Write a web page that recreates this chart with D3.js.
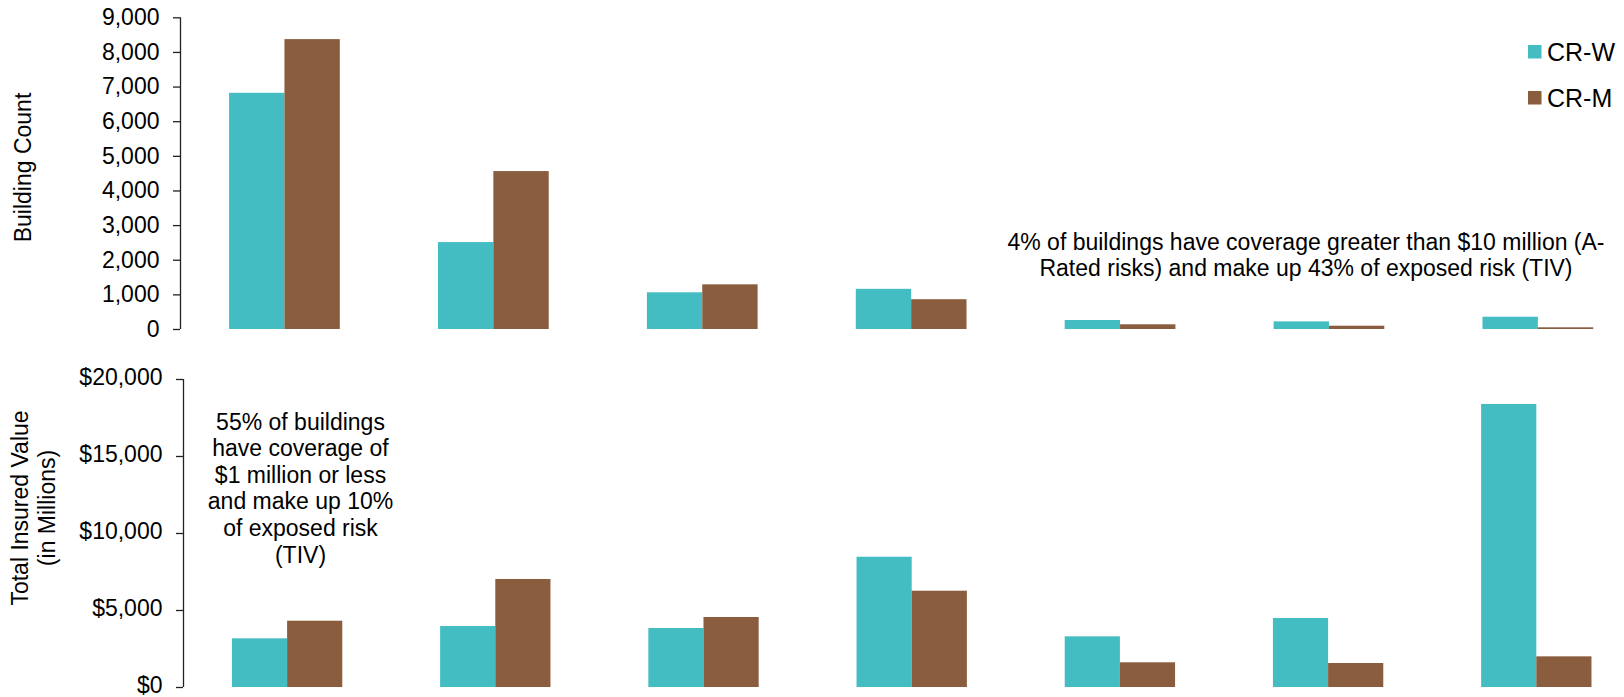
<!DOCTYPE html>
<html>
<head>
<meta charset="utf-8">
<script src="https://cdn.jsdelivr.net/npm/d3@7"></script>
<style>
  html, body { margin: 0; padding: 0; background: #fff; }
  svg { display: block; font-family: "Liberation Sans", Arial, sans-serif; }
  .axis path, .axis line { stroke: #222; stroke-width: 1.3; }
  .axis text { fill: #000; font-size: 23px; }
  .label { fill: #000; font-size: 23px; }
  .legend-label { fill: #000; font-size: 25px; }
</style>
</head>
<body>
<svg id="chart" width="1624" height="697"></svg>
<script>
// Coverage bands (x categories, not labelled on the chart)
const bands = ["Band 1", "Band 2", "Band 3", "Band 4", "Band 5", "Band 6", "Band 7"];
const seriesNames = ["CR-W", "CR-M"];
const seriesColors = ["#43BDC2", "#8B5D3F"];

// Building count per band
const buildingCountW = [6820, 2510, 1060, 1160, 260, 220, 355];
const buildingCountM = [8370, 4560, 1290, 860, 136, 95, 49];

// Total insured value per band, in $ millions
const tivW = [3160, 3960, 3830, 8460, 3290, 4480, 18380];
const tivM = [4305, 7013, 4545, 6253, 1604, 1558, 1991];

// Axis ticks
const countTicks = [0, 1000, 2000, 3000, 4000, 5000, 6000, 7000, 8000, 9000];
const tivTicks = [0, 5000, 10000, 15000, 20000];

const svg = d3.select("#chart");

function panel(cfg) {
  const x = d3.scaleBand()
    .domain(bands)
    .range([cfg.left, cfg.left + bands.length * cfg.step])
    .paddingInner(0.47)
    .paddingOuter(0.235);
  const xs = d3.scaleBand().domain(seriesNames).range([0, x.bandwidth()]);
  const y = d3.scaleLinear().domain(cfg.domain).range([cfg.bottom, cfg.top]);

  const g = svg.append("g");
  const rows = bands.map((b, i) => ({ band: b, values: [cfg.w[i], cfg.m[i]] }));

  g.selectAll("g.grp")
    .data(rows)
    .join("g")
    .attr("class", "grp")
    .attr("transform", d => `translate(${x(d.band)},0)`)
    .selectAll("rect")
    .data(d => d.values.map((v, k) => ({ name: seriesNames[k], v, k })))
    .join("rect")
    .attr("x", d => xs(d.name))
    .attr("width", xs.bandwidth())
    .attr("y", d => y(d.v))
    .attr("height", d => y(0) - y(d.v))
    .attr("fill", d => seriesColors[d.k]);

  const axis = d3.axisLeft(y)
    .tickValues(cfg.ticks)
    .tickFormat(cfg.format)
    .tickSize(7)
    .tickSizeOuter(0)
    .tickPadding(13.5);
  g.append("g")
    .attr("class", "axis")
    .attr("transform", `translate(${cfg.left},0)`)
    .call(axis)
    .call(s => s.select(".domain").attr("d", `M0.5,${cfg.bottom}V${cfg.top}`))
    .call(s => s.selectAll(".tick text").attr("dy", cfg.dy));
  return g;
}

// Upper panel: building count
panel({
  left: 180, step: 208.9, top: 17.3, bottom: 329,
  domain: [0, 9000], ticks: countTicks, format: d3.format(","), dy: "0.32em",
  w: buildingCountW, m: buildingCountM
});

// Lower panel: total insured value
panel({
  left: 183, step: 208.2, top: 379, bottom: 687,
  domain: [0, 20000], ticks: tivTicks, format: d => "$" + d3.format(",")(d), dy: "0.26em",
  w: tivW, m: tivM
});

// Axis titles
svg.append("text")
  .attr("class", "label")
  .attr("text-anchor", "middle")
  .attr("transform", "translate(31,167.5) rotate(-90)")
  .text("Building Count");

const tivTitle = svg.append("text")
  .attr("class", "label")
  .attr("text-anchor", "middle")
  .attr("transform", "translate(28,508) rotate(-90)");
tivTitle.append("tspan").attr("x", 0).attr("y", 0).text("Total Insured Value");
tivTitle.append("tspan").attr("x", 0).attr("y", 27).text("(in Millions)");

// Callouts
function callout(lines, cx, y0, lh) {
  const t = svg.append("text").attr("class", "label").attr("text-anchor", "middle");
  lines.forEach((l, i) => t.append("tspan").attr("x", cx).attr("y", y0 + i * lh).text(l));
}
callout([
  "55% of buildings",
  "have coverage of",
  "$1 million or less",
  "and make up 10%",
  "of exposed risk",
  "(TIV)"
], 300.5, 429.5, 26.6);

callout([
  "4% of buildings have coverage greater than $10 million (A-",
  "Rated risks) and make up 43% of exposed risk (TIV)"
], 1306, 249.5, 26.3);

// Legend
const legend = svg.append("g").attr("transform", "translate(1528,0)");
seriesNames.forEach((name, i) => {
  const yTop = 45 + i * 46;
  legend.append("rect")
    .attr("x", 0).attr("y", yTop)
    .attr("width", 13.5).attr("height", 13.5)
    .attr("fill", seriesColors[i]);
  legend.append("text")
    .attr("class", "legend-label")
    .attr("x", 19).attr("y", yTop + 15.5)
    .text(name);
});
</script>
</body>
</html>
